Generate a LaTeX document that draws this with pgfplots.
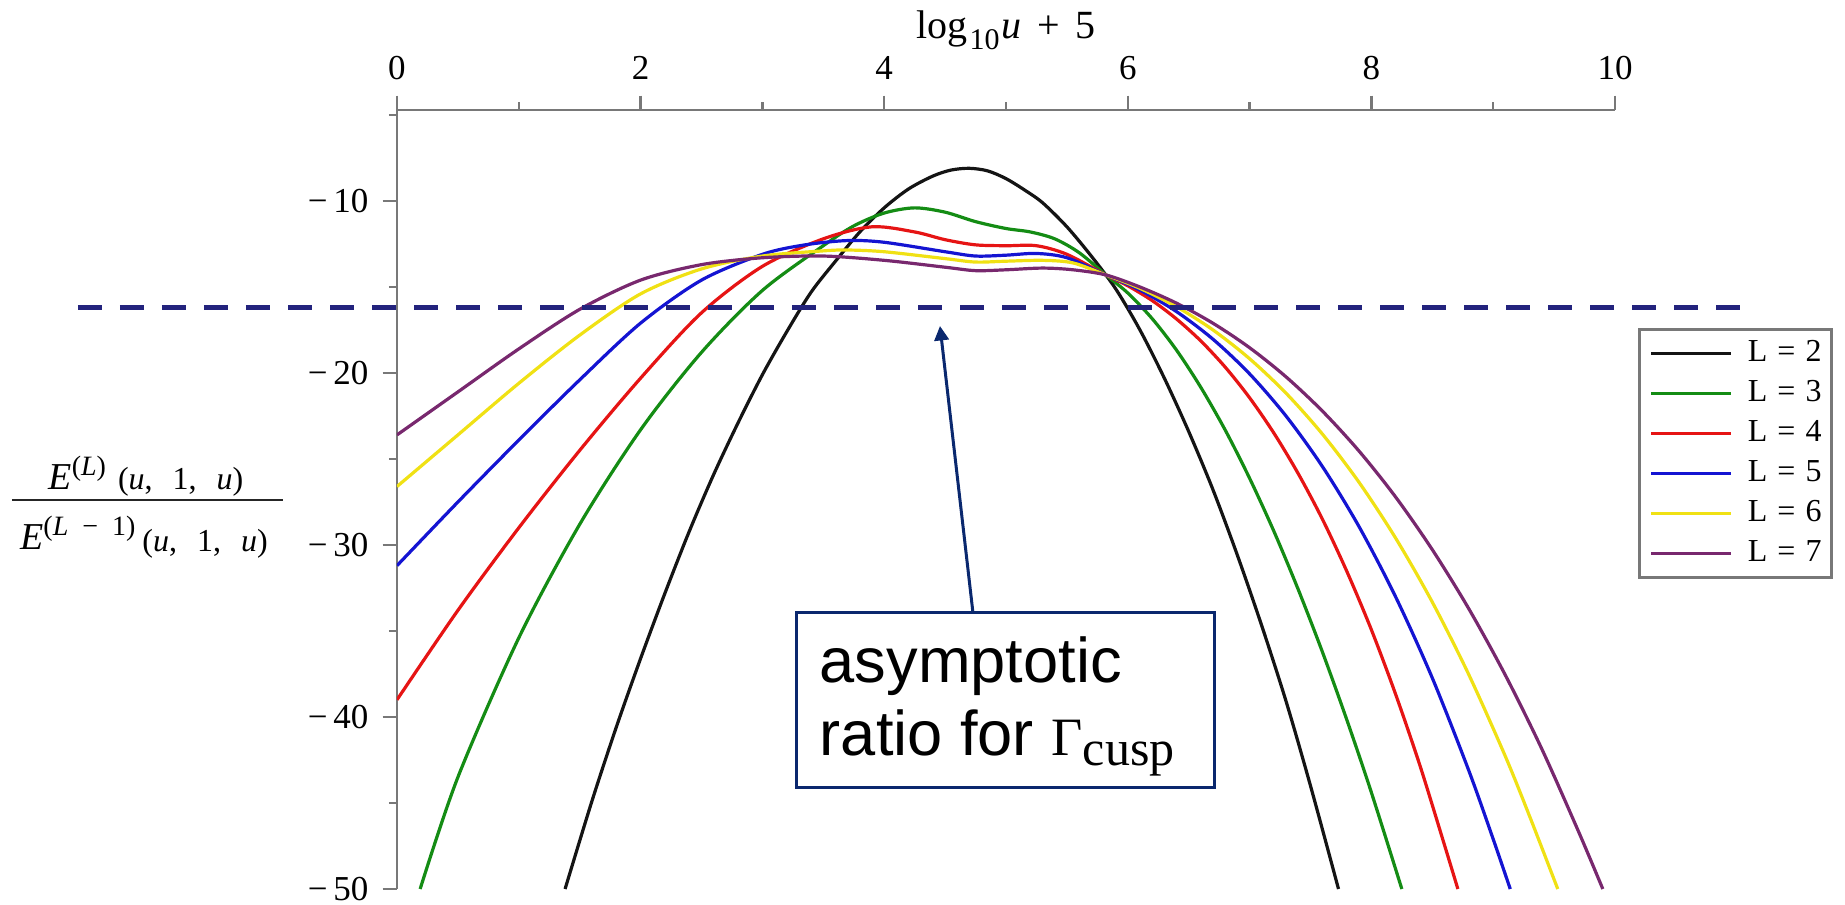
\documentclass[border=0pt]{standalone}
\usepackage{pgfplots}
\pgfplotsset{compat=1.18}
\usepackage{fontspec}
\setmainfont{Liberation Serif}
\newfontfamily\sansfont{Liberation Sans}
\usetikzlibrary{arrows.meta}

\definecolor{cTwo}{RGB}{20,20,20}
\definecolor{cThree}{RGB}{20,140,20}
\definecolor{cFour}{RGB}{230,20,20}
\definecolor{cFive}{RGB}{20,20,210}
\definecolor{cSix}{RGB}{240,225,20}
\definecolor{cSeven}{RGB}{120,40,110}
\definecolor{refline}{RGB}{35,35,125}
\definecolor{notecol}{RGB}{10,40,110}
\definecolor{axisgray}{RGB}{120,120,120}

% pieces of the vertical-axis label E^{(L)}(u,1,u) / E^{(L-1)}(u,1,u)
\newcommand{\Ebig}{{\fontsize{9.5}{11}\selectfont\textit{E}}}
\newcommand{\Esup}[1]{\raisebox{3.6pt}{\fontsize{7}{8}\selectfont(#1)}}
\newcommand{\Eargs}{{\fontsize{8}{9}\selectfont(\textit{u},\hspace{5pt}1,\hspace{5pt}\textit{u})}}

\begin{document}
\begin{tikzpicture}
\begin{axis}[
  at={(0,0)}, anchor=south west,
  scale only axis, width=304.5pt, height=194.75pt,
  xmin=0, xmax=10, ymin=-50, ymax=-4.71,
  axis x line=top, axis y line=left,
  axis line style={-, axisgray, line width=0.7pt},
  tick align=outside,
  tick style={axisgray, line width=0.6pt},
  major tick length=3.6pt, minor tick length=2pt,
  xtick={0,2,4,6,8,10}, xticklabels={0,2,4,6,8,10},
  minor xtick={1,3,5,7,9},
  ytick={-50,-40,-30,-20,-10},
  yticklabels={−\,50,−\,40,−\,30,−\,20,−\,10},
  minor ytick={-45,-35,-25,-15,-5},
  ticklabel style={font=\fontsize{8.75}{10}\selectfont},
  xticklabel shift=0.4pt, yticklabel shift=0pt,
  xlabel={log\hspace{0.6pt}{\fontsize{7.5}{8}\selectfont\raisebox{-2.6pt}{10}}\hspace{0.4pt}\textit{u}\hspace{4pt}+\hspace{4pt}5},
  every axis x label/.style={at={(axis description cs:0.5,1)}, anchor=base,
    yshift=17.8pt, font=\fontsize{10}{11}\selectfont},
  clip=true,
  legend style={at={(axis description cs:1.019,0.720)}, anchor=north west,
    draw=axisgray, line width=0.6pt, fill=white,
    inner xsep=2.5pt, inner ysep=2pt, row sep=2pt, column sep=3.75pt,
    font=\fontsize{8}{9}\selectfont,
    nodes={inner sep=0pt, text height=6pt, text depth=2pt}},
  legend cell align=left,
  legend image code/.code={\draw[#1, line width=0.9pt] (0pt,0pt) -- (20pt,0pt);},
  every axis plot/.append style={line width=0.8pt, smooth, no markers},
]
% L = 2
\addplot[cTwo] coordinates {
 (1.38,-50) (1.6,-44.9) (1.8,-40.6) (2.0,-36.6) (2.2,-32.8) (2.4,-29.2)
 (2.6,-25.9) (2.8,-22.9) (3.0,-20.1) (3.2,-17.6) (3.4,-15.3) (3.6,-13.5)
 (3.8,-11.8) (4.0,-10.4) (4.2,-9.3) (4.4,-8.55) (4.55,-8.2) (4.7,-8.1)
 (4.85,-8.25) (5.0,-8.7) (5.15,-9.35) (5.3,-10.1) (5.5,-11.5) (5.7,-13.2)
 (5.9,-15.1) (6.1,-17.5) (6.3,-20.3) (6.5,-23.4) (6.7,-26.8) (6.9,-30.6)
 (7.1,-34.7) (7.3,-39.1) (7.5,-44.0) (7.73,-50)};
\addlegendentry{L\hspace{2.5pt}=\hspace{2.5pt}2}
% L = 3
\addplot[cThree] coordinates {
 (0.19,-50) (0.5,-43.5) (1.0,-35.4) (1.5,-28.8) (2.0,-23.3) (2.5,-18.8)
 (3.0,-15.2) (3.5,-12.6) (3.75,-11.45) (4.0,-10.7) (4.25,-10.4) (4.5,-10.65)
 (4.75,-11.2) (5.0,-11.6) (5.2,-11.8) (5.4,-12.2) (5.6,-13.0) (5.82,-14.3)
 (6.0,-15.35) (6.2,-16.84) (6.4,-18.67) (6.6,-20.84) (6.8,-23.32) (7.0,-26.12)
 (7.2,-29.21) (7.4,-32.6) (7.6,-36.26) (7.8,-40.2) (8.0,-44.39) (8.25,-50)};
\addlegendentry{L\hspace{2.5pt}=\hspace{2.5pt}3}
% L = 4
\addplot[cFour] coordinates {
 (0,-39.0) (0.5,-33.8) (1.0,-29.0) (1.5,-24.5) (2.0,-20.3) (2.5,-16.5)
 (3.0,-13.8) (3.5,-12.2) (3.9,-11.5) (4.25,-11.8) (4.5,-12.25) (4.75,-12.55)
 (5.0,-12.6) (5.25,-12.6) (5.5,-13.1) (5.82,-14.3) (6.0,-14.93) (6.2,-15.79)
 (6.4,-16.86) (6.6,-18.14) (6.8,-19.66) (7.0,-21.44) (7.2,-23.5) (7.4,-25.86)
 (7.6,-28.53) (7.8,-31.56) (8.0,-34.93) (8.2,-38.7) (8.4,-42.85) (8.6,-47.44)
 (8.71,-50)};
\addlegendentry{L\hspace{2.5pt}=\hspace{2.5pt}4}
% L = 5
\addplot[cFive] coordinates {
 (0,-31.2) (0.5,-27.5) (1.0,-23.9) (1.5,-20.4) (2.0,-17.1) (2.5,-14.6)
 (3.0,-13.1) (3.35,-12.55) (3.7,-12.3) (4.0,-12.4) (4.5,-12.95) (4.75,-13.2)
 (5.0,-13.15) (5.25,-13.05) (5.5,-13.3) (5.82,-14.3) (6.1,-15.18) (6.4,-16.43)
 (6.7,-18.04) (7.0,-20.05) (7.3,-22.51) (7.6,-25.46) (7.9,-28.95) (8.2,-33.03)
 (8.5,-37.73) (8.8,-43.12) (9.0,-47.1) (9.14,-50)};
\addlegendentry{L\hspace{2.5pt}=\hspace{2.5pt}5}
% L = 6
\addplot[cSix] coordinates {
 (0,-26.6) (0.5,-23.6) (1.0,-20.6) (1.5,-17.8) (2.0,-15.4) (2.5,-13.95)
 (3.0,-13.2) (3.5,-12.9) (3.7,-12.85) (4.0,-12.95) (4.5,-13.35) (4.75,-13.55)
 (5.0,-13.5) (5.3,-13.45) (5.55,-13.6) (5.82,-14.3) (6.1,-15.08) (6.4,-16.15)
 (6.7,-17.5) (7.0,-19.17) (7.3,-21.18) (7.6,-23.57) (7.9,-26.37) (8.2,-29.61)
 (8.5,-33.32) (8.8,-37.54) (9.1,-42.29) (9.3,-45.79) (9.53,-50)};
\addlegendentry{L\hspace{2.5pt}=\hspace{2.5pt}6}
% L = 7
\addplot[cSeven] coordinates {
 (0,-23.6) (0.5,-21.1) (1.0,-18.6) (1.5,-16.3) (2.0,-14.6) (2.5,-13.7)
 (3.0,-13.3) (3.5,-13.2) (4.0,-13.45) (4.5,-13.85) (4.75,-14.05) (5.0,-14.0)
 (5.3,-13.9) (5.55,-14.0) (5.82,-14.3) (6.1,-15.0) (6.4,-15.94) (6.7,-17.11)
 (7.0,-18.53) (7.3,-20.23) (7.6,-22.23) (7.9,-24.55) (8.2,-27.22) (8.5,-30.27)
 (8.8,-33.71) (9.1,-37.57) (9.4,-41.87) (9.7,-46.65) (9.9,-50)};
\addlegendentry{L\hspace{2.5pt}=\hspace{2.5pt}7}
\end{axis}

% overlay: axis label, asymptotic reference line and its note
\begin{axis}[
  at={(0,0)}, anchor=south west,
  scale only axis, width=304.5pt, height=194.75pt,
  xmin=0, xmax=10, ymin=-50, ymax=-4.71,
  hide axis, clip=false,
]
\addplot[refline, line width=1.25pt, dash pattern=on 6pt off 4.5pt]
  coordinates {(-2.619,-16.2) (11.026,-16.2)};
% vertical-axis label as a built-up fraction
\node[anchor=base, inner sep=0pt] at (axis cs:-2.061,-26.80)
  {\Ebig\Esup{\textit{L}}\hspace{3pt}\Eargs};
\draw[black!85, line width=0.6pt] (axis cs:-3.161,-27.384) -- (axis cs:-0.936,-27.384);
\node[anchor=base, inner sep=0pt] at (axis cs:-2.077,-30.29)
  {\Ebig\Esup{\textit{L}\hspace{3.5pt}−\hspace{3.5pt}1}\hspace{1.75pt}\raisebox{-0.5pt}{\Eargs}};
% note box and arrow
\draw[notecol, line width=0.75pt] (axis cs:3.284,-33.95) rectangle (axis cs:6.708,-44.07);
\draw[notecol, line width=0.75pt, -{Triangle[length=3.6pt,width=3.6pt]}]
  (axis cs:4.729,-33.95) -- (axis cs:4.458,-17.27);
\node[anchor=base west, inner sep=0pt, font=\sansfont\fontsize{15.8}{18}\selectfont]
  at (axis cs:3.465,-37.97) {asymptotic};
\node[anchor=base west, inner sep=0pt, font=\sansfont\fontsize{15.8}{18}\selectfont]
  at (axis cs:3.465,-42.21) {ratio for {\rmfamily\fontsize{13.5}{16}\selectfont Γ}\raisebox{-2.5pt}{\rmfamily\fontsize{12.5}{14}\selectfont cusp}};
\end{axis}
\pgfresetboundingbox
\useasboundingbox (-99.25pt,-3.75pt) rectangle (362pt,222.25pt);
\end{tikzpicture}
\end{document}
